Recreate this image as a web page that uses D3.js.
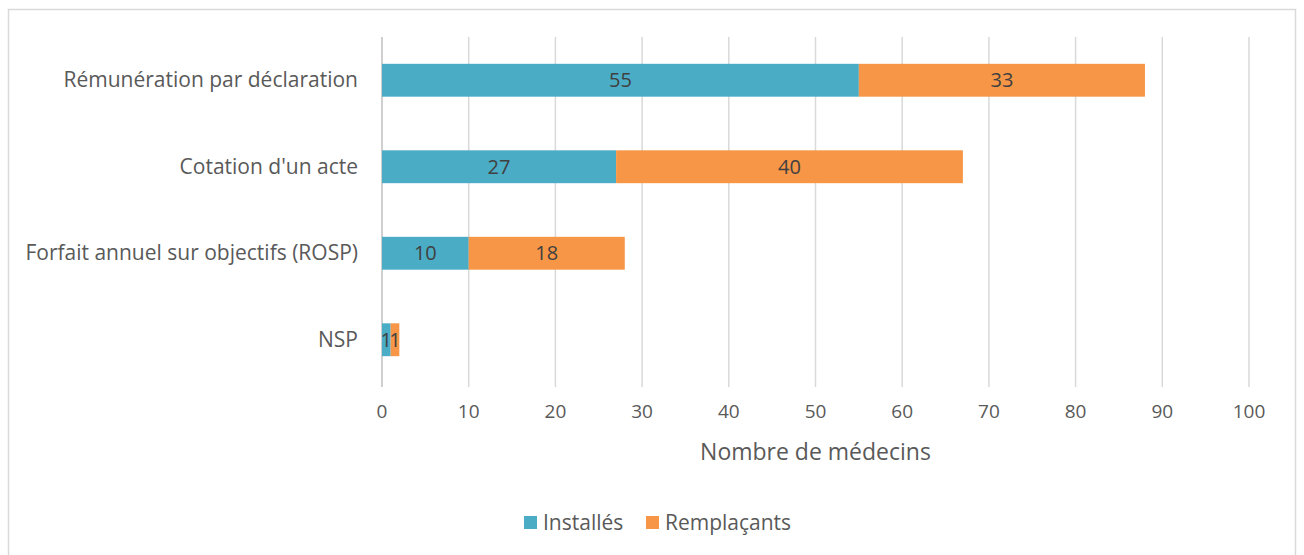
<!DOCTYPE html>
<html>
<head>
<meta charset="utf-8">
<script src="https://cdn.jsdelivr.net/npm/d3@7"></script>
<style>
  body { margin: 0; background: #fff; }
  text { font-family: "Open Sans", "Noto Sans", sans-serif; }
</style>
</head>
<body>
<svg id="chart" width="1304" height="555"></svg>
<script>
// data
var categories = ["Rémunération par déclaration", "Cotation d'un acte", "Forfait annuel sur objectifs (ROSP)", "NSP"];
var installes = [55, 27, 10, 1];
var remplacants = [33, 40, 18, 1];
var seriesNames = ["Installés", "Remplaçants"];
var seriesColors = ["#4BACC6", "#F79646"];
var xTicks = [0, 10, 20, 30, 40, 50, 60, 70, 80, 90, 100];

var svg = d3.select("#chart");

// outer frame
svg.append("rect")
  .attr("x", 8.5).attr("y", 9.5)
  .attr("width", 1287).attr("height", 560)
  .attr("fill", "none").attr("stroke", "#d9d9d9").attr("stroke-width", 1.5);

var plotLeft = 382, plotRight = 1249, plotTop = 37, plotBottom = 383;

var x = d3.scaleLinear().domain([0, 100]).range([plotLeft, plotRight]);
var y = d3.scaleBand().domain(categories).range([plotTop, plotBottom]).paddingInner(0.62).paddingOuter(0.31);

// gridlines
svg.append("g").selectAll("line")
  .data(xTicks)
  .enter().append("line")
  .attr("x1", function(d) { return x(d); })
  .attr("x2", function(d) { return x(d); })
  .attr("y1", plotTop).attr("y2", plotBottom + 4)
  .attr("stroke", function(d) { return d === 0 ? "#bfbfbf" : "#d9d9d9"; })
  .attr("stroke-width", 1.5);

// tick labels
svg.append("g").selectAll("text")
  .data(xTicks)
  .enter().append("text")
  .attr("x", function(d) { return x(d); })
  .attr("y", 418)
  .attr("text-anchor", "middle")
  .attr("fill", "#595959")
  .attr("font-size", 19)
  .text(function(d) { return d; });

// axis title
svg.append("text")
  .attr("x", (plotLeft + plotRight) / 2).attr("y", 460)
  .attr("text-anchor", "middle")
  .attr("fill", "#595959")
  .attr("font-size", 23)
  .text("Nombre de médecins");

// stacked data
var rows = categories.map(function(c, i) {
  return { cat: c, Installés: installes[i], Remplaçants: remplacants[i] };
});
var stacked = d3.stack().keys(seriesNames)(rows);

var layers = svg.append("g").selectAll("g")
  .data(stacked)
  .enter().append("g")
  .attr("fill", function(d, i) { return seriesColors[i]; });

layers.selectAll("rect")
  .data(function(d) { return d; })
  .enter().append("rect")
  .attr("x", function(d) { return x(d[0]); })
  .attr("width", function(d) { return x(d[1]) - x(d[0]); })
  .attr("y", function(d) { return y(d.data.cat); })
  .attr("height", y.bandwidth());

layers.selectAll("text")
  .data(function(d) { return d; })
  .enter().append("text")
  .attr("x", function(d) { return (x(d[0]) + x(d[1])) / 2; })
  .attr("y", function(d) { return y(d.data.cat) + y.bandwidth() / 2 + 7; })
  .attr("text-anchor", "middle")
  .attr("fill", "#404040")
  .attr("font-size", 20)
  .text(function(d) { return d[1] - d[0]; });

// category labels
svg.append("g").selectAll("text")
  .data(categories)
  .enter().append("text")
  .attr("x", 358)
  .attr("y", function(d) { return y(d) + y.bandwidth() / 2 + 7; })
  .attr("text-anchor", "end")
  .attr("fill", "#595959")
  .attr("font-size", 21)
  .text(function(d) { return d; });

// legend
var legend = svg.append("g").attr("transform", "translate(524,522)");
var lx = [0, 122];
seriesNames.forEach(function(s, i) {
  legend.append("rect")
    .attr("x", lx[i]).attr("y", -6)
    .attr("width", 13).attr("height", 13)
    .attr("fill", seriesColors[i]);
  legend.append("text")
    .attr("x", lx[i] + 19).attr("y", 8)
    .attr("fill", "#595959")
    .attr("font-size", 21)
    .text(s);
});
</script>
</body>
</html>
